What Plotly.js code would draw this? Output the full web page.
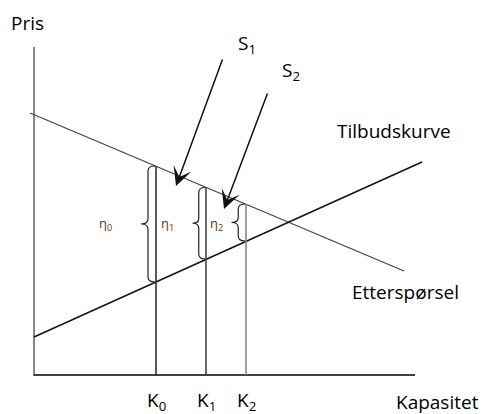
<!DOCTYPE html>
<html><head><meta charset="utf-8">
<script src="https://cdn.plot.ly/plotly-3.0.1.min.js"></script>
<style>html,body{margin:0;padding:0;background:#fff}</style>
</head><body>
<div id="chart" style="width:482px;height:414px"></div>
<script>
// ---- data (model units) ----
const demandX = [-0.4, 37.0];
const demandY = [26.2, 10.4];
const supplyX = [0, 38.8];
const supplyY = [3.8, 21.3];
const capacities = [12.2, 17.2, 21.2];
const capacityLabels = ['K<sub>0</sub>', 'K<sub>1</sub>', 'K<sub>2</sub>'];
const demandAtK = [20.9, 18.75, 17.1];
const supplyAtK = [9.3, 11.6, 13.4];
const etaLabels = ['η<sub>0</sub>', 'η<sub>1</sub>', 'η<sub>2</sub>'];
const etaX = [7.1, 13.3, 18.2];
const etaY = [15.1, 15.1, 15.1];
const arrowLabels = ['S<sub>1</sub>', 'S<sub>2</sub>'];
const arrowTailX = [18.9, 23.4];
const arrowTailY = [31.7, 28.3];
const arrowTipX = [14.2, 19.0];
const arrowTipY = [18.9, 16.6];
const arrowLabelX = [21.3, 25.7];
const arrowLabelY = [33.1, 30.4];
const yAxisTop = 32.8;
const xAxisEnd = 38.1;

const FONT = '"Open Sans", Carlito, Calibri, sans-serif';
const FS = 19;
const traces = [];
// axes
traces.push({x:[0,0], y:[-0.1, yAxisTop], mode:'lines', line:{color:'#888', width:2}, hoverinfo:'skip'});
traces.push({x:[0,xAxisEnd], y:[0,0], mode:'lines', line:{color:'#000', width:1.5}, hoverinfo:'skip'});
// demand & supply
traces.push({x:demandX, y:demandY, mode:'lines', line:{color:'#444', width:1.2}, hoverinfo:'skip'});
traces.push({x:supplyX, y:supplyY, mode:'lines', line:{color:'#111', width:1.5}, hoverinfo:'skip'});
// capacity verticals
const kColors = ['#333', '#444', '#888'];
capacities.forEach((k,i)=>{
  traces.push({x:[k,k], y:[0, demandAtK[i]], mode:'lines', line:{color:kColors[i], width:1.6}, hoverinfo:'skip'});
});

// braces
const braceW = [1.4, 1.25, 1.35];
const shapes = capacities.map((k,i)=>{
  const xr = k - 0.1, w = braceW[i], xb = xr - w*0.5, xt = xr - w;
  const yt = demandAtK[i], yb = supplyAtK[i], ym = (yt+yb)/2, c = 0.5;
  const p = `M${xr},${yt} Q${xb},${yt} ${xb},${yt-c} L${xb},${ym+c} Q${xb},${ym} ${xt},${ym} ` +
            `Q${xb},${ym} ${xb},${ym-c} L${xb},${yb+c} Q${xb},${yb} ${xr},${yb}`;
  return {type:'path', xref:'x', yref:'y', path:p, line:{color:'#222', width:1.2}};
});

const ann = [];
const txt = (x,y,t,size,extra)=>Object.assign({x:x,y:y,xref:'x',yref:'y',text:t,showarrow:false,
  font:{family:FONT,size:size,color:'#000'}, xanchor:'center', yanchor:'middle'}, extra||{});
ann.push(txt(-0.7, 35.2, 'Pris', FS));
ann.push(txt(36.0, 24.4, 'Tilbudskurve', FS));
ann.push(txt(37.1, 8.3, 'Etterspørsel', FS));
ann.push(txt(40.3, -2.7, 'Kapasitet', FS));
capacities.forEach((k,i)=>ann.push(txt(k, -2.6, capacityLabels[i], FS)));
etaLabels.forEach((t,i)=>ann.push(txt(etaX[i], etaY[i], t, 13, {font:{family:FONT,size:13,color:'#5a3a1a'}})));
arrowLabels.forEach((t,i)=>{
  ann.push(txt(arrowLabelX[i], arrowLabelY[i], t, FS));
  ann.push({x:arrowTipX[i], y:arrowTipY[i], ax:arrowTailX[i], ay:arrowTailY[i], xref:'x', yref:'y',
    axref:'x', ayref:'y', text:'', showarrow:true, arrowhead:3, arrowsize:2.1, arrowwidth:1.5, arrowcolor:'#111'});
});

const layout = {
  width:482, height:414, margin:{l:0,r:0,t:0,b:0}, showlegend:false,
  paper_bgcolor:'#fff', plot_bgcolor:'#fff',
  xaxis:{range:[-3.4, 44.8], visible:false, fixedrange:true},
  yaxis:{range:[-3.9, 37.5], visible:false, fixedrange:true},
  shapes:shapes, annotations:ann
};
Plotly.newPlot('chart', traces, layout, {staticPlot:true, displayModeBar:false});
</script>
</body></html>
